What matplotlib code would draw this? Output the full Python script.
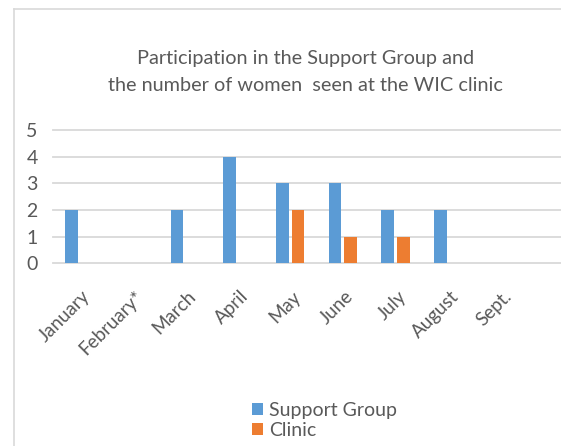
import matplotlib
matplotlib.use("Agg")
import matplotlib.pyplot as plt
from matplotlib.lines import Line2D
from matplotlib.transforms import ScaledTranslation

# data
months = ["January", "February*", "March", "April", "May", "June", "July", "August", "Sept."]
support_group = [2, 0, 2, 4, 3, 3, 2, 2, 0]
clinic = [0, 0, 0, 0, 2, 1, 1, 0, 0]

plt.rcParams['font.family'] = ['Lato', 'DejaVu Sans']
text_color = '#595959'

fig = plt.figure(figsize=(5.61, 4.46), dpi=100)

# chart border, only left and top edges are in the crop
fig.add_artist(Line2D([0.025, 0.025], [0.0, 0.98], transform=fig.transFigure,
                      color='#d9d9d9', linewidth=1.2))
fig.add_artist(Line2D([0.025, 1.0], [0.98, 0.98], transform=fig.transFigure,
                      color='#d9d9d9', linewidth=1.2))

ax = fig.add_axes([0.0945, 0.410, 0.9055, 0.2982])

x = list(range(len(months)))
w = 0.24
ax.bar([i - 0.15 for i in x], support_group, width=w, color='#5B9BD5', label='Support Group', zorder=3)
ax.bar([i + 0.15 for i in x], clinic, width=w, color='#ED7D31', label='Clinic', zorder=3)

ax.set_xlim(-0.5, 9.14)
ax.set_ylim(0, 5)
ax.set_yticks(range(6))
for v in range(6):
    ax.axhline(v, color='#d9d9d9', linewidth=1.3, zorder=1, clip_on=False)

for s in ax.spines.values():
    s.set_visible(False)
ax.tick_params(axis='both', length=0, colors=text_color, labelsize=14)
ax.tick_params(axis='y', pad=11)
ax.tick_params(axis='x', pad=22)

ax.set_xticks(x)
ax.set_xticklabels(months, rotation=45, ha='right', va='center', rotation_mode='anchor',
                   fontsize=13.5, color=text_color)
for lab in ax.get_xticklabels():
    lab.set_transform(lab.get_transform() + ScaledTranslation(0.08, 0, fig.dpi_scale_trans))

fig.text(0.545, 0.868, "Participation in the Support Group and", ha='center', va='center',
         fontsize=14.3, color=text_color)
fig.text(0.545, 0.809, "the number of women  seen at the WIC clinic", ha='center', va='center',
         fontsize=14.3, color=text_color)

handles, labels = ax.get_legend_handles_labels()
fig.legend(handles, labels, loc='center', bbox_to_anchor=(0.578, 0.058), frameon=False,
           fontsize=14, labelcolor=text_color, handlelength=0.6, handleheight=0.6,
           handletextpad=0.3, labelspacing=0.15, borderpad=0)

fig.savefig("out.png", dpi=100)
